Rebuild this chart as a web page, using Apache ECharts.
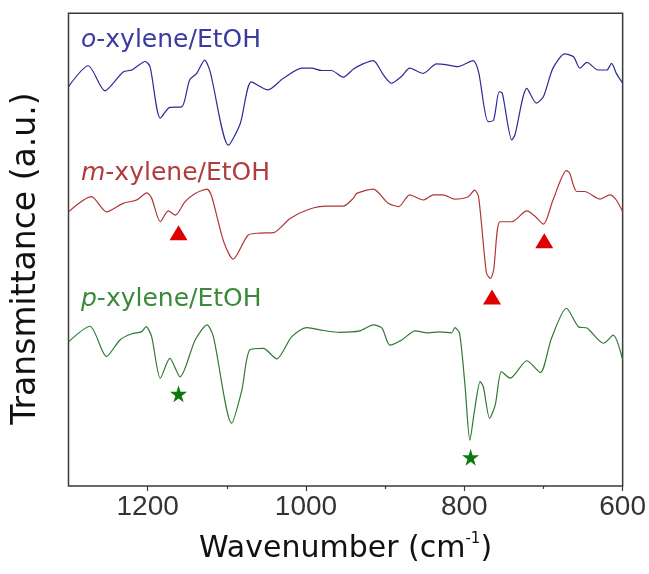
<!DOCTYPE html>
<html>
<head>
<meta charset="utf-8">
<script src="https://cdn.jsdelivr.net/npm/echarts@6/dist/echarts.min.js"></script>
<style>html,body{margin:0;padding:0;background:#fff}#c{width:649px;height:574px}</style>
</head>
<body>
<div id="c"></div>
<script>
// Wavenumber (cm-1), transmittance (a.u., offset stacked)
const oXylene = [[1300,84.5],[1275,88.9],[1254,83.6],[1231,87.6],[1220,88.0],[1203,89.8],[1197,88.7],[1184,77.8],[1172,80.1],[1157,80.2],[1147,85.9],[1138,87.3],[1128,90.1],[1121,87.6],[1098,72.1],[1083,76.7],[1069,85.5],[1048,83.8],[1029,86.2],[1005,88.4],[993,88.4],[980,87.9],[968,87.9],[953,86.5],[940,88.2],[928,89.3],[915,90.0],[902,86.9],[892,85.2],[879,86.7],[869,88.4],[852,87.3],[835,89.3],[822,89.1],[808,88.7],[789,90.0],[782,87.6],[770,77.1],[763,77.4],[756,83.4],[752,83.1],[740,73.2],[736,74.3],[721,84.1],[709,81.0],[700,82.4],[688,88.4],[673,91.4],[662,90.8],[654,88.4],[645,89.6],[631,88.0],[620,88.0],[614,89.4],[608,87.3],[600,85.2]];
const mXylene = [[1300,58.0],[1271,61.2],[1252,58.0],[1231,59.8],[1214,60.5],[1201,62.0],[1195,60.9],[1184,55.9],[1174,58.2],[1165,57.3],[1153,60.1],[1140,61.9],[1125,62.8],[1119,61.2],[1104,51.7],[1092,48.0],[1073,53.1],[1058,53.5],[1041,53.6],[1020,56.6],[997,58.5],[974,59.2],[953,59.2],[940,60.9],[936,61.9],[915,62.8],[896,59.8],[883,59.1],[869,61.6],[852,60.5],[839,61.6],[827,61.6],[812,60.7],[795,61.2],[787,62.6],[782,61.2],[772,45.0],[767,43.9],[763,45.7],[755,55.9],[740,55.9],[721,58.2],[711,57.1],[700,55.4],[688,60.5],[671,66.7],[667,66.2],[658,62.3],[648,62.3],[629,60.7],[616,61.6],[608,60.5],[600,58.0]];
const pXylene = [[1300,30.5],[1273,33.8],[1252,27.4],[1235,30.9],[1220,32.2],[1208,32.6],[1202,33.7],[1195,31.6],[1184,22.8],[1172,27.0],[1159,23.1],[1140,30.9],[1125,34.1],[1117,31.6],[1094,13.3],[1081,20.3],[1071,28.8],[1054,29.1],[1037,26.9],[1018,31.6],[999,33.5],[978,32.9],[957,32.5],[932,32.8],[915,34.1],[904,33.4],[894,29.8],[879,30.9],[862,32.8],[846,32.4],[831,32.6],[816,32.4],[812,33.5],[806,32.3],[799,21.0],[793,9.7],[787,16.1],[780,22.1],[776,21.0],[768,14.3],[761,17.1],[753,24.2],[742,22.8],[721,26.5],[704,24.0],[690,31.2],[671,37.6],[656,33.7],[645,33.4],[624,30.2],[612,31.9],[600,26.7]];
const triangleMarks = [[1161,53.6],[765,40.0],[699,51.9]];
const starMarks = [[1161,19.5],[792,6.1]];
const majorTicks = [1200,1000,800,600];
const minorTicks = [1100,900,700];
const seriesNames = ['o', 'm', 'p'];

const chart = echarts.init(document.getElementById('c'), null, {renderer:'canvas'});
const FONT = "'DejaVu Sans', sans-serif";
const STAR = 'path://M50,0 L61,35 L98,35 L68,57 L79,91 L50,70 L21,91 L32,57 L2,35 L39,35 Z';

function label(prefix, color, y) {
  return {
    type: 'text', left: 81, top: y,
    style: {
      text: '{i|' + prefix + '}{n|-xylene/EtOH}',
      rich: {
        i: {fontStyle: 'italic', fontSize: 25, fontFamily: FONT, fill: color, color: color},
        n: {fontSize: 25, fontFamily: FONT, fill: color, color: color}
      },
      fill: color, fontSize: 25, fontFamily: FONT
    }
  };
}

chart.setOption({
  animation: false,
  grid: {left: 68.5, right: 26.3, top: 13.3, bottom: 88, show: true, borderColor: '#3a3a3a', borderWidth: 1.5, backgroundColor: 'transparent'},
  xAxis: [{
    type: 'value', min: 600, max: 1300, inverse: true,
    axisLine: {show: false},
    splitLine: {show: false},
    axisTick: {show: true, customValues: majorTicks, length: 5, lineStyle: {color: '#3a3a3a', width: 1.2}},
    axisLabel: {customValues: majorTicks, formatter: function (v) { return String(v); }, fontFamily: "'Liberation Sans', Arial, sans-serif", fontSize: 28, color: '#333', margin: 7},
    name: '{a|Wavenumber (cm}{s|-1}{a|)}',
    nameLocation: 'middle', nameGap: 46,
    nameTextStyle: {
      rich: {
        a: {fontFamily: FONT, fontSize: 30, color: '#111', lineHeight: 34},
        s: {fontFamily: FONT, fontSize: 15, color: '#111', verticalAlign: 'top', lineHeight: 34, padding: [0,0,14,0]}
      }
    }
  }, {
    type: 'value', min: 600, max: 1300, inverse: true, position: 'bottom',
    axisLine: {show: false}, splitLine: {show: false},
    axisTick: {show: true, customValues: minorTicks, length: 3, lineStyle: {color: '#3a3a3a', width: 1.2}},
    axisLabel: {show: false}
  }],
  yAxis: {
    type: 'value', min: 0, max: 100,
    axisLine: {show: false}, axisTick: {show: false}, axisLabel: {show: false}, splitLine: {show: false},
    name: 'Transmittance (a.u.)', nameLocation: 'middle', nameGap: 26,
    nameTextStyle: {fontFamily: FONT, fontSize: 33, color: '#111', padding: [0, 18, 0, 0]}
  },
  graphic: [
    label(seriesNames[0], '#3a3aa0', 28),
    label(seriesNames[1], '#b03c3c', 161),
    label(seriesNames[2], '#3a8a3a', 287)
  ],
  series: [
    {type: 'line', data: oXylene, showSymbol: false, smooth: 0.25, lineStyle: {color: '#2b2b93', width: 1.2}},
    {type: 'line', data: mXylene, showSymbol: false, smooth: 0.25, lineStyle: {color: '#b03535', width: 1.2}},
    {type: 'line', data: pXylene, showSymbol: false, smooth: 0.25, lineStyle: {color: '#2f7a2f', width: 1.2}},
    {type: 'scatter', data: triangleMarks, symbol: 'triangle', symbolSize: [18, 15], itemStyle: {color: '#e00000', opacity: 1}},
    {type: 'scatter', data: starMarks, symbol: STAR, symbolSize: 17, itemStyle: {color: '#0b7a0b', opacity: 1}}
  ]
});
</script>
</body>
</html>
